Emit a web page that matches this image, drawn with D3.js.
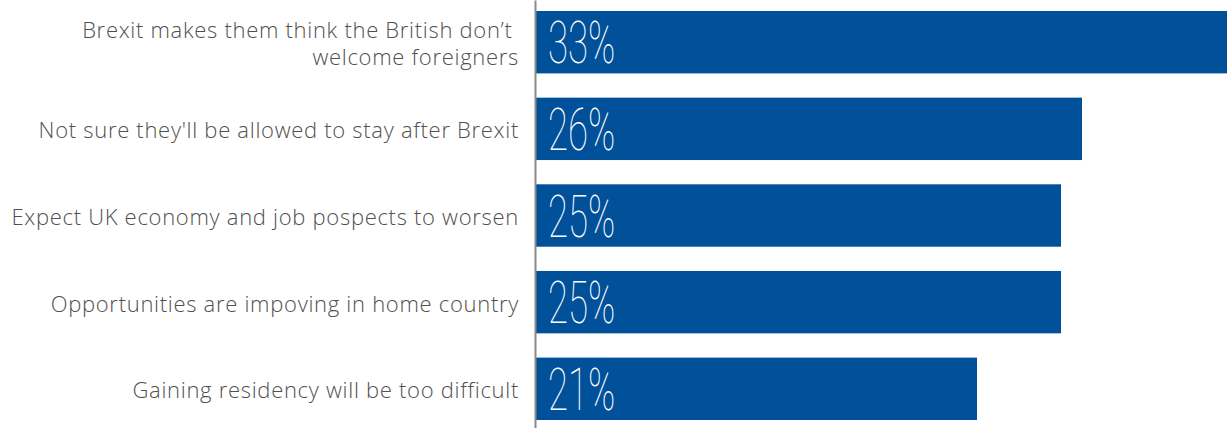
<!DOCTYPE html>
<html>
<head>
<meta charset="utf-8">
<script src="https://cdn.jsdelivr.net/npm/d3@7"></script>
<style>
  body { margin: 0; background: #fff; }
  svg { display: block; }
</style>
</head>
<body>
<script>
// Data

const reasons = [
  ["Brexit makes them think the British don\u2019t ", "welcome foreigners"],
  ["Not sure they'll be allowed to stay after Brexit"],
  ["Expect UK economy and job pospects to worsen"],
  ["Opportunities are impoving in home country"],
  ["Gaining residency will be too difficult"]
];
const shares = [33, 26, 25, 25, 21];
const shareLabels = ["33%", "26%", "25%", "25%", "21%"];

// Dimensions

const width = 1227, height = 428;
const axisX = 536;

const svg = d3.select("body")
  .append("svg")
  .attr("width", width)
  .attr("height", height);

const ids = d3.range(shares.length);

const y = d3.scaleBand()
  .domain(ids)
  .range([0, 431])
  .paddingInner(0.28)
  .paddingOuter(0.127);

const x = d3.scaleLinear()
  .domain([0, 33])
  .range([axisX, axisX + 33 * 21]);

// Bars

svg.append("g")
  .selectAll("rect")
  .data(ids)
  .join("rect")
  .attr("x", x(0))
  .attr("y", i => y(i))
  .attr("width", i => x(shares[i]) - x(0))
  .attr("height", y.bandwidth())
  .attr("fill", "#00509a");

// Value labels (thin condensed look)

svg.append("g")
  .selectAll("text")
  .data(ids)
  .join("text")
  .attr("transform", i => `translate(${x(0) + 12},${y(i) + y.bandwidth() - 10}) scale(0.61,1)`)
  .attr("fill", "#fff")
  .attr("font-family", "Roboto, 'Liberation Sans', sans-serif")
  .attr("font-weight", 100)
  .attr("font-size", 60)
  .text(i => shareLabels[i]);

// Category labels

const labels = svg.append("g")
  .selectAll("text")
  .data(ids)
  .join("text")
  .attr("text-anchor", "end")
  .attr("fill", "#505050")
  .attr("font-family", "'Open Sans', sans-serif")
  .attr("font-weight", 300)
  .attr("font-size", 22)
  .attr("letter-spacing", 0.7)
  .attr("xml:space", "preserve")
  .attr("y", i => y(i) + y.bandwidth() / 2 + 9.5 - (reasons[i].length - 1) * 13.5);

labels.selectAll("tspan")
  .data(i => reasons[i])
  .join("tspan")
  .attr("x", 519)
  .attr("dy", (d, j) => j === 0 ? 0 : 27)
  .text(d => d);

// Axis line

svg.append("g")
  .attr("transform", `translate(${axisX - 1},0)`)
  .call(d3.axisLeft(d3.scaleLinear().range([0, height])).ticks(0).tickSizeOuter(0))
  .call(g => g.select(".domain").attr("stroke", "#8a8a8a").attr("stroke-width", 2));
</script>
</body>
</html>
